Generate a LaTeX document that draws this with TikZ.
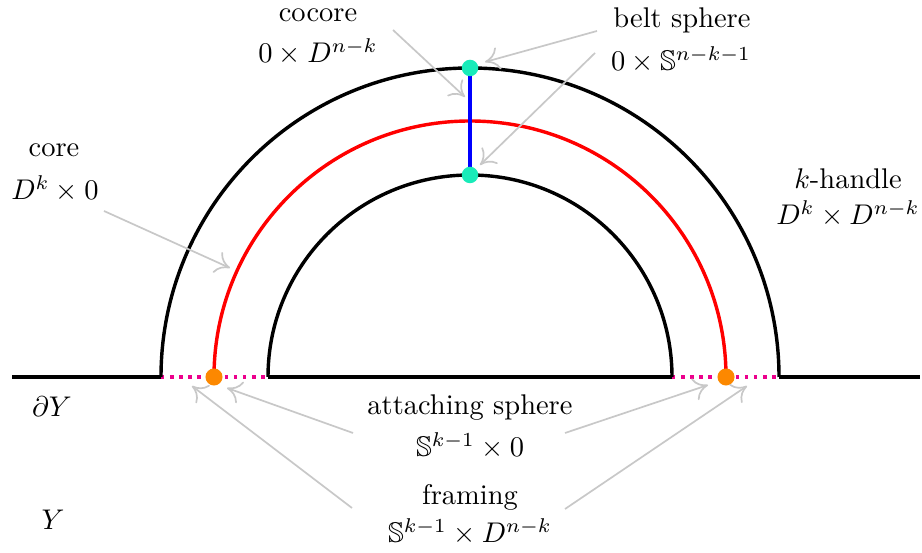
\documentclass[tikz,border=0pt]{standalone}
\usepackage{amssymb}
\usetikzlibrary{arrows.meta}
\definecolor{dotcyan}{RGB}{25,235,185}
\definecolor{dotorange}{RGB}{252,136,0}
\definecolor{arrgray}{RGB}{200,200,200}
\begin{document}
\begin{tikzpicture}[x=0.3513pt,y=0.3513pt,
  handle/.style={line width=1.2pt},
  coreline/.style={line width=1.2pt,red},
  cocoreline/.style={line width=1.2pt,blue},
  framingline/.style={line width=1.2pt,magenta,dotted},
  lbl/.style={anchor=base,inner sep=0pt},
  pointer/.style={arrgray,line width=0.6pt,-{To[length=5pt,width=8pt]}},
  beltdot/.style={circle,fill=dotcyan,inner sep=0pt,minimum size=5.8pt},
  attdot/.style={circle,fill=dotorange,inner sep=0pt,minimum size=6pt}]
\useasboundingbox (0,0) rectangle (922,-553);

% base line
\coordinate (bL) at (12,-377);
\coordinate (oL) at (161,-377);
\coordinate (iL) at (268,-377);
\coordinate (iR) at (672,-377);
\coordinate (oR) at (779,-377);
\coordinate (bR) at (920,-377);
\draw[handle] (bL) -- (oL);
\draw[handle] (iL) -- (iR);
\draw[handle] (oR) -- (bR);
\draw[framingline] (oL) -- (iL);
\draw[framingline] (iR) -- (oR);

% arcs
\draw[handle] (oL) arc[start angle=180,end angle=0,radius=309];
\draw[handle] (iL) arc[start angle=180,end angle=0,radius=202];
\draw[coreline] (214,-377) arc[start angle=180,end angle=0,radius=256];

% cocore
\coordinate (ctop) at (470,-68);
\coordinate (cbot) at (470,-175);
\draw[cocoreline] (ctop) -- (cbot);
\node[beltdot] (btop) at (ctop) {};
\node[beltdot] (bbot) at (cbot) {};

% attaching sphere points
\node[attdot] (aL) at (214,-377) {};
\node[attdot] (aR) at (726,-377) {};

% labels
\node[lbl] (cocore1) at (318,-22) {cocore};
\node[lbl] (cocore2) at (318,-63) {$0\times D^{n-k}$};
\node[lbl] (belt1) at (682,-28) {belt sphere};
\node[lbl] (belt2) at (681,-71) {$0\times\mathbb{S}^{n-k-1}$};
\node[lbl] (core1) at (54,-157) {core};
\node[lbl] (core2) at (55,-200) {$D^k\times 0$};
\node[lbl] (hand1) at (848,-189) {$k$-handle};
\node[lbl] (hand2) at (848,-225) {$D^k\times D^{n-k}$};
\node[lbl] (dY) at (52,-417) {$\partial Y$};
\node[lbl] (Y) at (53,-530) {$Y$};
\node[lbl] (att1) at (470,-415) {attaching sphere};
\node[lbl] (att2) at (470,-457) {$\mathbb{S}^{k-1}\times 0$};
\node[lbl] (fr1) at (470,-505) {framing};
\node[lbl] (fr2) at (470,-543) {$\mathbb{S}^{k-1}\times D^{n-k}$};

% pointer coordinates
\coordinate (pcoS) at (393,-30);  \coordinate (pcoE) at (465,-97);
\coordinate (pb1S) at (597,-31);  \coordinate (pb1E) at (485,-62);
\coordinate (pb2S) at (595,-53);  \coordinate (pb2E) at (480,-165);
\coordinate (pcS) at (104,-211);  \coordinate (pcE) at (230,-268);
\coordinate (paLS) at (353,-433); \coordinate (paLE) at (227,-388);
\coordinate (pfLS) at (352,-508); \coordinate (pfLE) at (192,-386);
\coordinate (paRS) at (565,-433); \coordinate (paRE) at (708,-385);
\coordinate (pfRS) at (565,-509); \coordinate (pfRE) at (747,-386);

\draw[pointer] (pcoS) -- (pcoE);
\draw[pointer] (pb1S) -- (pb1E);
\draw[pointer] (pb2S) -- (pb2E);
\draw[pointer] (pcS) -- (pcE);
\draw[pointer] (paLS) -- (paLE);
\draw[pointer] (pfLS) -- (pfLE);
\draw[pointer] (paRS) -- (paRE);
\draw[pointer] (pfRS) -- (pfRE);
\end{tikzpicture}
\end{document}
